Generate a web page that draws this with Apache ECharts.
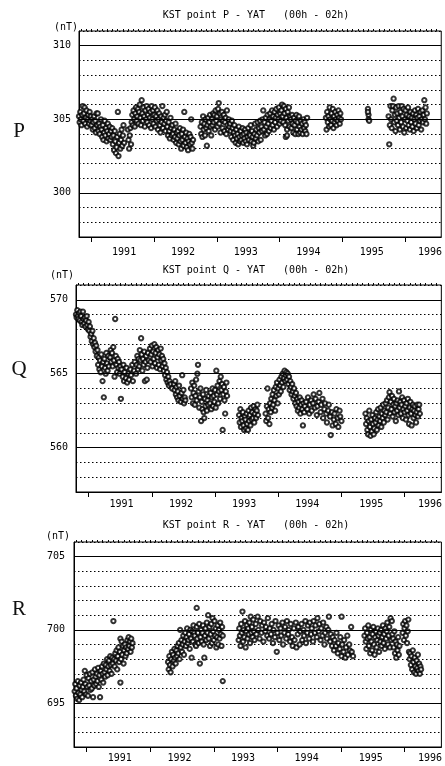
<!DOCTYPE html>
<html><head><meta charset="utf-8">
<script src="https://cdn.jsdelivr.net/npm/echarts@6/dist/echarts.min.js"></script>
<style>html,body{margin:0;padding:0;background:#fff}#c{width:445px;height:766px}</style>
</head><body><div id="c"></div>
<script>
// ---------- DATA (decimal year, nT) ----------
const pointsP = [
[1990.80,305.2],[1990.81,304.8],[1990.82,305.5],[1990.83,305.0],[1990.84,304.6],[1990.85,305.3],[1990.86,305.9],[1990.87,304.9],[1990.88,305.4],[1990.89,305.8],[1990.90,304.7],[1990.91,305.1],[1990.92,305.6],[1990.93,304.5],[1990.94,305.0],[1990.95,305.3],[1990.96,304.7],[1990.97,305.5],[1990.98,304.9],[1990.99,305.2],
[1991.00,304.6],[1991.01,305.0],[1991.02,304.3],[1991.03,304.8],[1991.04,305.2],[1991.05,304.4],[1991.06,304.9],[1991.07,304.1],[1991.08,305.4],[1991.09,304.6],[1991.10,305.4],[1991.11,304.2],[1991.12,304.7],[1991.13,304.0],[1991.14,304.5],[1991.15,305.0],
[1991.16,304.3],[1991.17,303.8],[1991.18,304.6],[1991.19,303.6],[1991.20,304.1],[1991.21,304.9],[1991.22,303.9],[1991.23,304.4],[1991.24,303.5],[1991.25,304.2],[1991.26,304.7],[1991.27,303.7],[1991.28,304.0],[1991.29,304.5],[1991.30,303.6],[1991.31,304.2],
[1991.32,303.8],[1991.33,304.4],[1991.34,303.3],[1991.35,303.9],[1991.36,302.9],[1991.37,304.2],[1991.38,303.5],[1991.39,302.7],[1991.40,303.1],[1991.41,303.8],[1991.42,305.5],[1991.43,302.5],[1991.44,303.4],[1991.45,304.0],[1991.46,303.0],[1991.47,303.6],[1991.48,304.3],[1991.49,303.2],[1991.50,303.9],[1991.51,304.6],[1991.52,303.4],
[1991.58,304.3],[1991.59,303.6],[1991.60,303.0],[1991.61,303.9],[1991.62,304.4],[1991.63,303.3],
[1991.64,304.8],[1991.65,305.3],[1991.66,304.6],[1991.67,305.6],[1991.68,305.0],[1991.69,304.5],[1991.70,305.4],[1991.71,305.8],[1991.72,304.9],[1991.73,305.2],[1991.74,305.7],[1991.75,304.7],[1991.76,305.5],[1991.77,306.0],[1991.78,305.1],[1991.79,304.6],[1991.80,306.3],[1991.81,305.4],[1991.82,304.9],[1991.83,305.8],[1991.84,305.2],[1991.85,304.5],[1991.86,305.6],[1991.87,305.0],[1991.88,305.9],[1991.89,304.8],[1991.90,305.3],[1991.91,305.7],[1991.92,304.6],[1991.93,305.1],[1991.94,305.5],[1991.95,304.4],[1991.96,305.9],[1991.97,305.0],[1991.98,305.6],[1991.99,304.7],[1992.00,305.3],[1992.01,305.8],[1992.02,304.5],[1992.03,305.2],[1992.04,304.9],[1992.05,305.6],[1992.06,304.3],[1992.07,305.0],[1992.08,305.4],[1992.09,304.6],[1992.10,304.1],[1992.11,305.2],[1992.12,304.8],[1992.13,305.9],[1992.14,304.4],[1992.15,305.1],[1992.16,304.7],[1992.17,305.3],[1992.18,304.2],[1992.19,304.9],[1992.20,305.5],
[1992.21,304.5],[1992.22,303.9],[1992.23,304.8],[1992.24,304.2],[1992.25,303.7],[1992.26,305.1],[1992.27,304.4],[1992.28,303.9],[1992.29,304.6],[1992.30,304.0],[1992.31,303.6],[1992.32,304.3],[1992.33,303.8],[1992.34,304.7],[1992.35,303.4],[1992.36,304.1],
[1992.37,303.7],[1992.38,304.2],[1992.39,303.3],[1992.40,303.9],[1992.41,304.4],[1992.42,303.5],[1992.43,303.0],[1992.44,304.0],[1992.45,303.6],[1992.46,304.3],[1992.47,303.2],[1992.48,305.5],[1992.49,303.8],[1992.50,303.4],[1992.51,304.1],[1992.52,303.1],[1992.53,303.7],[1992.54,302.9],[1992.55,303.5],[1992.56,304.0],[1992.57,303.3],[1992.58,303.8],[1992.59,305.0],[1992.60,303.4],[1992.61,303.0],[1992.62,303.6],
[1992.74,304.5],[1992.75,304.0],[1992.76,304.8],[1992.77,303.8],[1992.78,305.2],[1992.79,304.3],[1992.80,304.7],[1992.81,303.9],[1992.82,305.0],[1992.83,304.4],[1992.84,303.2],[1992.85,304.6],[1992.86,305.1],[1992.87,304.2],[1992.88,304.8],[1992.89,305.3],[1992.90,304.5],[1992.91,303.9],[1992.92,305.0],[1992.93,304.6],[1992.94,305.4],
[1992.95,304.8],[1992.96,305.3],[1992.97,304.3],[1992.98,305.6],[1992.99,304.9],[1993.00,305.2],[1993.01,304.5],[1993.02,305.7],[1993.03,306.1],[1993.04,304.7],[1993.05,305.4],[1993.06,304.1],[1993.07,305.0],[1993.08,305.5],[1993.09,304.4],[1993.10,304.9],[1993.11,305.3],[1993.12,304.2],[1993.13,304.8],[1993.14,305.1],[1993.15,304.0],[1993.16,305.6],[1993.17,304.6],[1993.18,304.3],[1993.19,305.0],[1993.20,304.5],
[1993.21,304.7],[1993.22,304.2],[1993.23,303.8],[1993.24,304.9],[1993.25,304.4],[1993.26,303.6],[1993.27,304.1],[1993.28,304.6],[1993.29,303.9],[1993.30,303.4],[1993.31,304.3],[1993.32,303.7],[1993.33,304.0],[1993.34,303.3],[1993.35,304.5],[1993.36,303.8],[1993.37,303.5],[1993.38,304.2],[1993.39,303.6],[1993.40,303.9],[1993.41,304.4],[1993.42,303.4],[1993.43,304.0],[1993.44,303.7],[1993.45,304.3],[1993.46,303.5],[1993.47,304.1],[1993.48,303.3],[1993.49,303.8],[1993.50,304.4],[1993.51,303.6],[1993.52,304.0],[1993.53,303.9],[1993.54,304.6],[1993.55,303.5],[1993.56,304.2],[1993.57,303.8],[1993.58,303.2],[1993.59,303.4],[1993.60,304.0],[1993.61,304.7],[1993.62,303.7],[1993.63,304.3],[1993.64,303.9],[1993.65,304.8],[1993.66,303.5],[1993.67,304.4],[1993.68,304.1],[1993.69,304.9],[1993.70,303.6],[1993.71,304.5],[1993.72,304.2],[1993.73,305.0],
[1993.74,305.6],[1993.75,304.3],[1993.76,304.8],[1993.77,303.9],[1993.78,305.1],[1993.79,304.5],[1993.80,304.0],[1993.81,305.3],[1993.82,304.7],[1993.83,304.2],[1993.84,305.0],[1993.85,305.4],[1993.86,304.4],[1993.87,304.9],[1993.88,305.6],[1993.89,304.6],[1993.90,305.2],[1993.91,304.3],[1993.92,305.5],[1993.93,304.8],[1993.94,305.1],[1993.95,305.7],[1993.96,304.5],[1993.97,305.3],[1993.98,305.0],[1993.99,305.8],[1994.00,304.7],[1994.01,305.4],[1994.02,304.9],[1994.03,305.6],[1994.04,306.0],[1994.05,305.2],[1994.06,304.8],[1994.07,305.9],[1994.08,305.4],[1994.09,304.6],[1994.10,305.7],[1994.10,303.8],[1994.11,305.1],[1994.12,304.3],[1994.12,303.9],[1994.13,305.5],[1994.14,304.9],[1994.15,305.8],[1994.16,304.5],[1994.17,305.2],
[1994.18,305.0],[1994.19,304.4],[1994.20,305.3],[1994.21,304.7],[1994.22,304.1],[1994.23,305.1],[1994.24,304.6],[1994.25,304.0],[1994.26,304.9],[1994.27,305.3],[1994.28,304.3],[1994.29,304.8],[1994.30,304.0],[1994.31,305.2],[1994.32,304.5],[1994.33,304.1],[1994.34,304.9],[1994.35,304.3],[1994.36,304.7],[1994.37,304.0],[1994.38,305.0],[1994.39,304.4],[1994.40,304.8],[1994.41,304.2],[1994.42,304.6],[1994.43,304.0],[1994.44,305.1],
[1994.74,305.1],[1994.75,304.3],[1994.76,305.5],[1994.77,304.8],[1994.78,305.2],[1994.79,304.5],[1994.80,305.8],[1994.81,305.0],[1994.82,304.6],[1994.83,305.4],[1994.84,304.9],[1994.85,305.7],[1994.86,304.4],[1994.87,305.2],[1994.88,304.8],[1994.89,305.5],[1994.90,305.0],[1994.91,304.6],[1994.92,305.3],[1994.93,304.9],[1994.94,305.6],[1994.95,305.1],[1994.96,304.7],[1994.97,305.4],[1994.98,305.0],
[1995.41,305.7],[1995.42,305.3],[1995.42,305.0],[1995.43,304.9],[1995.41,305.5],
[1995.74,305.2],[1995.75,303.3],[1995.76,304.6],[1995.77,305.9],[1995.78,305.0],[1995.79,304.4],[1995.80,305.6],[1995.81,305.9],[1995.82,306.4],[1995.83,304.8],[1995.84,305.3],[1995.85,304.2],[1995.86,305.8],[1995.87,304.9],[1995.88,305.4],[1995.89,304.6],[1995.90,305.9],[1995.91,305.1],[1995.92,304.3],[1995.93,305.5],[1995.94,304.8],[1995.95,305.9],[1995.96,305.2],[1995.97,304.5],[1995.98,305.7],[1995.99,304.1],[1996.00,305.0],[1996.01,305.6],[1996.02,304.4],[1996.03,305.3],[1996.04,304.9],[1996.05,305.8],[1996.06,304.6],[1996.07,305.2],[1996.08,304.3],[1996.09,305.5],[1996.10,304.8],[1996.11,305.1],[1996.12,304.5],[1996.13,305.4],[1996.14,304.2],[1996.15,305.0],[1996.16,305.6],[1996.17,304.7],[1996.18,305.3],[1996.19,304.4],[1996.20,305.1],[1996.21,305.7],[1996.22,304.6],[1996.23,305.2],[1996.24,304.9],[1996.25,305.5],[1996.26,304.3],[1996.27,305.0],[1996.28,305.6],[1996.29,304.8],[1996.30,305.3],[1996.31,306.3],[1996.32,305.0],[1996.33,305.8],[1996.34,304.7],[1996.35,305.4]
];
const pointsQ = [
[1990.76,569.8],[1990.77,569.5],[1990.78,569.2],[1990.79,569.6],[1990.80,569.0],[1990.81,568.8],[1990.82,569.3],[1990.83,568.9],[1990.84,568.7],[1990.85,569.1],[1990.86,568.6],
[1990.87,569.2],[1990.88,568.9],[1990.89,568.5],[1990.90,568.3],[1990.91,569.2],[1990.92,568.7],[1990.93,568.4],[1990.94,568.8],[1990.95,568.2],[1990.96,568.6],[1990.97,568.9],[1990.98,568.3],[1990.99,568.0],[1991.00,568.5],
[1991.01,567.9],[1991.02,568.2],[1991.03,567.5],[1991.04,567.7],[1991.05,567.2],[1991.06,567.9],[1991.07,567.0],[1991.08,567.4],[1991.09,566.8],[1991.10,567.1],[1991.11,566.5],[1991.12,566.9],[1991.13,566.2],[1991.14,566.6],
[1991.15,565.6],[1991.16,566.1],[1991.17,565.3],[1991.18,565.9],[1991.19,565.1],[1991.20,566.3],[1991.21,565.5],[1991.22,564.5],[1991.23,565.8],[1991.24,563.4],[1991.25,566.0],[1991.26,565.4],[1991.27,565.0],[1991.28,566.4],[1991.29,565.7],[1991.30,565.2],[1991.31,566.2],[1991.32,565.5],
[1991.34,566.1],[1991.35,566.6],[1991.36,565.8],[1991.37,566.4],[1991.38,565.5],[1991.39,566.8],[1991.40,565.9],[1991.41,564.8],[1991.42,568.7],[1991.43,566.2],[1991.44,565.6],[1991.45,565.1],[1991.46,566.0],[1991.47,565.4],[1991.48,565.8],[1991.49,565.0],[1991.50,565.5],[1991.51,563.3],
[1991.52,565.3],[1991.54,564.8],[1991.55,565.6],[1991.56,564.5],[1991.57,565.1],[1991.59,564.7],[1991.60,565.4],[1991.61,564.4],[1991.63,565.0],[1991.64,564.6],[1991.66,565.3],[1991.67,564.9],[1991.69,565.6],[1991.70,564.5],[1991.72,565.2],[1991.73,565.8],[1991.75,565.0],
[1991.76,565.6],[1991.77,566.2],[1991.78,565.3],[1991.79,566.0],[1991.80,565.5],[1991.81,566.6],[1991.82,565.9],[1991.83,567.4],[1991.84,566.3],[1991.85,565.2],[1991.86,566.0],[1991.87,565.6],[1991.88,566.5],[1991.89,564.5],[1991.90,565.8],[1991.91,566.2],[1991.92,564.6],[1991.93,565.4],[1991.94,566.4],[1991.95,565.9],
[1991.97,566.7],[1991.98,565.8],[1991.99,566.3],[1992.00,566.9],[1992.01,565.5],[1992.02,566.5],[1992.03,566.0],[1992.04,567.0],[1992.05,565.7],[1992.06,566.4],[1992.07,566.8],[1992.08,565.4],[1992.09,566.1],[1992.10,566.6],[1992.11,565.6],[1992.12,566.3],[1992.13,565.3],[1992.14,566.7],[1992.15,565.9],[1992.16,566.2],
[1992.17,565.5],[1992.18,566.0],[1992.19,565.2],[1992.20,565.7],[1992.21,564.9],[1992.22,565.4],[1992.23,564.6],[1992.24,565.1],[1992.25,564.4],[1992.26,564.8],[1992.27,564.2],[1992.28,564.5],[1992.30,564.3],[1992.32,564.0],
[1992.35,564.3],[1992.36,563.9],[1992.37,564.5],[1992.38,563.6],[1992.39,564.1],[1992.40,563.4],[1992.41,563.8],[1992.42,563.2],[1992.43,564.2],[1992.44,563.5],[1992.46,563.1],[1992.47,563.7],[1992.48,564.9],[1992.49,563.3],[1992.50,563.9],[1992.51,563.0],[1992.52,563.4],[1992.53,563.2],
[1992.62,564.0],[1992.63,563.4],[1992.64,564.4],[1992.65,563.0],[1992.66,563.7],[1992.67,564.2],[1992.68,562.9],[1992.69,563.5],[1992.70,564.6],[1992.71,563.2],[1992.72,565.0],[1992.73,565.6],[1992.74,563.8],[1992.75,562.7],[1992.76,563.4],[1992.77,564.0],[1992.78,561.8],[1992.79,563.1],[1992.80,562.6],[1992.81,563.6],[1992.82,562.4],[1992.83,562.0],[1992.84,563.3],[1992.85,562.8],[1992.86,563.9],[1992.87,562.5],[1992.88,563.2],[1992.89,562.9],[1992.90,563.5],
[1992.92,563.0],[1992.93,563.7],[1992.94,562.6],[1992.95,563.4],[1992.96,564.0],[1992.97,562.8],[1992.98,563.5],[1992.99,563.1],[1993.00,563.9],[1993.01,562.7],[1993.02,565.2],[1993.03,563.6],[1993.04,564.2],[1993.05,563.0],[1993.06,563.8],[1993.07,564.5],[1993.08,563.3],[1993.09,564.8],[1993.10,563.9],[1993.11,564.3],[1993.12,561.2],[1993.13,563.6],[1993.14,564.1],[1993.15,563.2],[1993.16,562.3],[1993.17,563.8],[1993.18,564.4],[1993.19,563.5],
[1993.38,562.2],[1993.39,561.7],[1993.40,562.6],[1993.41,561.4],[1993.42,562.0],[1993.43,561.8],[1993.44,562.4],[1993.45,561.5],[1993.46,561.2],[1993.47,562.1],[1993.48,561.9],[1993.49,561.3],[1993.50,562.3],[1993.51,561.6],[1993.52,561.2],[1993.53,562.5],[1993.54,561.8],[1993.55,562.2],[1993.56,561.5],[1993.57,562.7],[1993.58,561.9],[1993.59,562.4],[1993.60,562.0],[1993.61,562.8],[1993.62,561.7],[1993.63,562.3],[1993.64,562.6],[1993.65,562.0],[1993.66,562.5],[1993.67,562.9],[1993.68,562.2],
[1993.80,562.3],[1993.81,561.8],[1993.82,562.8],[1993.83,564.0],[1993.84,562.0],[1993.85,562.6],[1993.86,561.6],[1993.87,563.0],[1993.88,562.4],[1993.89,563.3],[1993.90,562.7],[1993.91,563.6],[1993.92,562.9],[1993.93,563.9],[1993.94,563.2],[1993.95,562.5],[1993.96,564.1],[1993.97,563.5],[1993.98,564.4],[1993.99,563.0],[1994.00,564.0],[1994.01,563.6],[1994.02,564.6],[1994.03,564.2],[1994.04,563.8],[1994.05,564.8],[1994.06,564.4],[1994.07,565.0],[1994.08,564.1],[1994.09,564.7],[1994.10,565.2],[1994.11,564.5],
[1994.12,564.9],[1994.13,565.1],[1994.14,564.6],[1994.15,565.0],[1994.16,564.3],[1994.17,564.8],[1994.18,563.9],[1994.19,564.5],[1994.20,564.1],[1994.21,563.6],[1994.22,564.3],[1994.23,563.8],[1994.24,563.3],[1994.25,564.0],[1994.26,563.5],[1994.27,563.0],[1994.28,563.7],[1994.29,562.8],[1994.30,563.3],[1994.31,562.5],[1994.32,563.1],[1994.33,562.7],[1994.34,563.4],[1994.35,562.3],[1994.36,562.9],[1994.37,563.2],[1994.38,562.6],[1994.39,561.5],[1994.40,563.0],[1994.41,562.4],[1994.42,562.8],
[1994.44,563.1],[1994.46,562.6],[1994.47,563.4],[1994.49,562.3],[1994.50,562.9],[1994.52,563.2],[1994.53,562.5],[1994.55,563.0],[1994.56,563.6],[1994.58,562.7],[1994.59,563.3],[1994.61,562.2],[1994.62,562.8],[1994.64,563.1],[1994.65,563.7],[1994.67,562.4],[1994.68,562.9],[1994.70,563.3],[1994.71,562.0],[1994.73,562.6],[1994.74,563.0],[1994.76,562.3],[1994.77,561.7],[1994.79,562.5],[1994.80,562.9],[1994.82,562.1],[1994.83,560.85],[1994.85,562.4],[1994.86,561.5],[1994.88,561.9],[1994.89,562.3],[1994.91,561.6],[1994.92,562.6],[1994.94,562.0],[1994.95,561.4],[1994.97,562.5],[1994.98,562.1],[1995.00,561.8],
[1995.38,562.3],[1995.39,561.6],[1995.40,562.0],[1995.41,561.2],[1995.42,560.9],[1995.43,561.8],[1995.44,562.5],[1995.45,561.4],[1995.46,560.8],[1995.47,561.9],[1995.48,561.1],[1995.49,562.2],[1995.50,561.6],[1995.51,560.9],[1995.52,561.3],[1995.53,562.0],[1995.54,561.7],[1995.55,562.4],[1995.56,561.2],[1995.57,561.9],[1995.58,562.6],[1995.59,561.5],[1995.60,562.1],[1995.61,561.8],[1995.62,562.7],[1995.63,561.4],[1995.64,562.3],[1995.65,562.0],[1995.66,562.9],[1995.67,561.7],[1995.68,562.5],[1995.69,562.2],[1995.70,563.0],[1995.71,562.4],[1995.72,563.2],[1995.73,561.9],[1995.74,562.7],[1995.75,563.4],[1995.76,563.75],[1995.77,562.3],[1995.78,563.1],[1995.79,562.6],[1995.80,563.5],[1995.81,562.1],[1995.82,562.9],[1995.83,563.3],[1995.84,562.4],[1995.85,562.8],[1995.86,561.8],[1995.87,563.0],[1995.88,562.5],[1995.89,563.2],[1995.90,562.2],[1995.91,563.8],[1995.92,562.7],[1995.93,563.1],[1995.94,562.3],[1995.95,562.9],[1995.96,563.4],[1995.97,562.0],[1995.98,562.6],[1995.99,563.2],[1996.00,562.4],[1996.01,562.8],[1996.02,561.9],[1996.03,563.0],[1996.04,562.5],[1996.05,563.3],[1996.06,562.2],[1996.07,561.6],[1996.08,562.7],[1996.09,563.1],[1996.10,562.3],[1996.11,561.5],[1996.12,562.6],[1996.13,562.9],[1996.14,562.0],[1996.15,562.5],[1996.16,562.8],[1996.17,562.2],[1996.18,561.7],[1996.19,562.4],[1996.20,562.9],[1996.21,562.1],[1996.22,562.6],[1996.23,562.9],[1996.24,562.3]
];
const pointsR = [
[1990.81,695.8],[1990.82,696.3],[1990.83,695.5],[1990.84,696.0],[1990.85,695.3],[1990.86,696.5],[1990.87,695.7],[1990.88,695.2],[1990.89,696.2],[1990.90,695.6],[1990.91,696.4],[1990.92,695.9],[1990.93,695.4],[1990.94,696.1],
[1990.95,696.6],[1990.96,695.8],[1990.97,697.2],[1990.98,696.3],[1990.99,695.6],[1991.00,696.9],[1991.01,696.1],[1991.02,695.5],[1991.03,696.7],[1991.04,696.2],[1991.05,697.0],[1991.06,695.9],[1991.07,696.5],[1991.08,696.0],[1991.09,697.1],[1991.10,695.4],[1991.11,696.6],[1991.12,696.2],[1991.13,697.3],[1991.14,696.8],[1991.15,696.3],[1991.16,697.0],[1991.17,696.5],[1991.18,697.4],[1991.19,696.1],[1991.20,696.9],[1991.21,695.4],
[1991.22,697.2],[1991.23,696.6],[1991.24,697.5],[1991.25,697.0],[1991.26,696.4],[1991.27,697.7],[1991.28,697.1],[1991.29,696.8],[1991.30,697.6],[1991.31,697.3],[1991.32,698.0],[1991.33,696.9],[1991.34,697.5],[1991.35,697.9],[1991.36,697.2],[1991.37,698.2],[1991.38,697.6],[1991.39,697.0],[1991.40,698.1],[1991.41,697.7],[1991.42,700.6],
[1991.43,698.0],[1991.44,697.5],[1991.45,698.4],[1991.46,697.9],[1991.47,698.6],[1991.48,697.3],[1991.49,698.2],[1991.50,698.8],[1991.51,697.8],[1991.52,698.5],[1991.53,696.4],[1991.53,699.4],[1991.54,698.0],[1991.55,699.2],[1991.56,698.3],[1991.57,698.9],[1991.58,697.7],[1991.59,698.6],[1991.60,699.0],[1991.61,698.2],[1991.62,698.8],[1991.63,698.4],
[1991.64,699.3],[1991.65,698.7],[1991.66,699.5],[1991.67,698.9],[1991.68,699.2],[1991.69,698.5],[1991.70,699.4],[1991.71,698.8],[1991.72,699.1],
[1992.28,697.8],[1992.29,697.3],[1992.30,698.2],[1992.31,697.6],[1992.32,697.1],[1992.33,698.0],[1992.34,698.5],[1992.35,697.5],[1992.36,698.3],[1992.37,697.9],[1992.38,698.7],[1992.39,698.1],[1992.40,697.7],[1992.41,698.6],[1992.42,698.2],[1992.43,698.9],[1992.44,698.4],[1992.45,699.1],[1992.46,698.0],[1992.47,700.0],
[1992.48,698.8],[1992.49,699.3],[1992.50,698.5],[1992.51,699.0],[1992.52,699.6],[1992.53,698.3],[1992.54,699.2],[1992.55,699.8],[1992.56,698.9],[1992.57,699.5],[1992.58,700.1],[1992.59,699.1],[1992.60,699.3],[1992.61,699.7],[1992.62,698.7],[1992.63,700.0],[1992.64,699.4],[1992.65,698.1],[1992.66,699.9],[1992.67,699.2],[1992.68,700.3],[1992.69,699.8],[1992.70,699.6],[1992.71,699.0],[1992.72,698.9],[1992.73,700.2],[1992.73,701.5],[1992.74,699.4],[1992.75,699.8],[1992.76,699.1],[1992.77,700.4],
[1992.78,697.7],[1992.79,699.5],[1992.80,700.0],[1992.81,699.2],[1992.82,699.8],[1992.83,700.3],[1992.84,699.0],[1992.85,698.1],[1992.86,699.6],[1992.87,700.1],[1992.88,699.3],[1992.89,700.5],[1992.90,699.8],[1992.91,701.0],[1992.92,699.4],[1992.93,700.2],[1992.94,698.9],[1992.95,699.7],[1992.96,700.4],[1992.97,699.1],[1992.98,700.8],[1992.99,699.9],[1993.00,699.3],[1993.01,700.6],[1993.02,699.6],[1993.03,700.1],[1993.04,698.8],[1993.05,699.5],[1993.06,700.3],[1993.07,699.0],[1993.08,700.0],[1993.09,699.4],[1993.10,700.5],[1993.11,699.7],[1993.12,698.9],[1993.13,700.2],[1993.14,696.5],[1993.14,699.6],
[1993.39,699.3],[1993.40,700.1],[1993.41,699.6],[1993.42,698.9],[1993.43,700.4],[1993.44,699.8],[1993.45,701.25],[1993.46,699.2],[1993.47,700.0],[1993.48,699.5],[1993.49,700.6],[1993.50,698.8],[1993.51,699.9],[1993.52,700.3],[1993.53,699.4],[1993.54,700.1],[1993.55,699.7],[1993.56,700.5],[1993.57,699.1],[1993.58,700.9],[1993.59,699.8],[1993.60,700.2],[1993.61,699.5],[1993.62,700.7],[1993.63,699.9],[1993.64,699.3],[1993.66,700.4],[1993.67,699.7],[1993.69,700.9],[1993.70,700.0],[1993.72,699.4],[1993.73,700.6],[1993.75,699.8],[1993.76,700.3],[1993.78,699.2],[1993.79,700.5],[1993.81,699.9],[1993.82,700.2],[1993.84,699.6],[1993.85,700.8],[1993.87,699.4],[1993.88,700.1],[1993.90,699.7],[1993.91,700.4],[1993.93,699.1],[1993.94,700.0],[1993.96,699.5],[1993.97,700.6],[1993.99,698.5],[1994.00,699.8],[1994.02,700.3],[1994.03,699.3],[1994.05,700.1],[1994.06,699.6],[1994.08,700.5],[1994.09,699.0],[1994.11,699.8],[1994.12,700.2],[1994.14,699.4],[1994.15,700.6],[1994.17,699.7],[1994.18,700.0],[1994.20,699.2],[1994.21,700.4],[1994.23,699.5],[1994.24,698.9],[1994.26,700.1],[1994.27,699.3],[1994.29,700.5],[1994.30,698.8],[1994.32,699.7],[1994.33,700.2],[1994.35,699.0],[1994.36,699.9],[1994.38,700.4],[1994.39,699.3],[1994.41,700.0],[1994.42,699.6],[1994.44,700.6],[1994.45,699.1],[1994.47,699.8],[1994.48,700.3],[1994.50,699.4],[1994.51,700.5],[1994.53,699.7],[1994.54,700.1],[1994.56,699.2],[1994.57,700.6],[1994.59,699.8],[1994.60,700.3],[1994.62,699.5],[1994.63,700.8],[1994.65,699.9],[1994.66,700.4],[1994.68,699.3],[1994.69,700.1],[1994.71,699.6],[1994.72,700.5],[1994.74,699.0],[1994.75,699.8],[1994.77,700.2],[1994.78,699.4],[1994.80,700.0],[1994.81,700.9],[1994.83,699.2],[1994.84,699.7],[1994.86,698.9],[1994.87,699.5],[1994.89,698.6],[1994.90,699.3],[1994.92,698.9],[1994.93,699.8],[1994.95,698.4],[1994.96,699.1],[1994.98,698.7],[1994.99,699.5],[1995.01,698.2],[1995.01,700.9],[1995.02,699.0],[1995.04,698.5],[1995.05,699.3],[1995.07,698.1],[1995.08,698.8],[1995.10,699.6],[1995.11,698.3],[1995.13,699.0],[1995.14,698.6],[1995.16,700.2],[1995.17,698.5],[1995.19,698.2],
[1995.37,699.6],[1995.38,700.1],[1995.39,699.2],[1995.40,698.7],[1995.41,699.8],[1995.42,699.4],[1995.43,700.3],[1995.44,698.9],[1995.45,699.5],[1995.46,698.4],[1995.47,700.0],[1995.48,699.2],[1995.49,698.6],[1995.50,699.7],[1995.51,700.2],[1995.52,699.0],[1995.53,698.3],[1995.54,699.5],[1995.55,699.9],[1995.56,698.8],[1995.57,699.3],[1995.58,700.1],[1995.59,699.6],[1995.60,698.5],[1995.61,699.8],[1995.62,699.2],[1995.63,700.0],[1995.64,698.9],[1995.65,699.5],[1995.66,700.3],[1995.67,699.1],[1995.68,699.7],[1995.69,698.7],[1995.70,700.1],[1995.71,699.4],[1995.72,699.9],[1995.73,700.5],[1995.74,699.0],[1995.75,699.6],[1995.76,700.2],[1995.77,698.8],[1995.78,700.8],[1995.79,699.3],[1995.80,700.6],[1995.81,699.7],
[1995.82,699.4],[1995.83,698.8],[1995.84,699.9],[1995.85,698.4],[1995.86,699.2],[1995.87,698.1],[1995.88,699.0],[1995.89,698.6],[1995.90,699.5],[1995.91,698.3],[1995.92,698.9],
[1995.97,699.8],[1995.98,700.4],[1995.99,699.3],[1996.00,700.1],[1996.01,700.6],[1996.02,699.6],[1996.03,700.3],[1996.04,699.1],[1996.05,699.9],[1996.06,700.7],
[1996.07,698.5],[1996.08,698.0],[1996.09,698.4],[1996.10,697.6],[1996.11,698.2],[1996.12,697.3],[1996.13,698.6],[1996.14,697.8],[1996.15,697.1],[1996.16,698.1],[1996.17,697.5],[1996.18,697.0],[1996.19,697.9],[1996.20,697.4],[1996.21,698.3],[1996.22,697.2],[1996.23,697.7],[1996.24,697.0],[1996.25,697.5],[1996.26,697.3]
];
const panelNames = ['P','Q','R'];
const panelTitles = ['KST point P - YAT   (00h - 02h)','KST point Q - YAT   (00h - 02h)','KST point R - YAT   (00h - 02h)'];
const yMins = [297, 557, 692];
const yMaxs = [311, 571, 706];
const yLabelsP = [300, 305, 310];
const yLabelsQ = [560, 565, 570];
const yLabelsR = [695, 700, 705];
const yearTicks = [1991, 1992, 1993, 1994, 1995, 1996];
const yearLabels = ['1991', '1992', '1993', '1994', '1995', '1996'];
const yearLabelPos = [1991.52, 1992.46, 1993.46, 1994.46, 1995.47, 1996.40];
const xMin = 1990.8, xMax = 1996.58;

// ---------- LAYOUT ----------
const layout = [
  {left: 79, top: 31, width: 365, height: 206, labelMargin: 8, xLabelMargin: 10, titleY: 15, letterY: 131, nTx: 78, nTy: 27},
  {left: 76, top: 285, width: 367, height: 207, labelMargin: 8, xLabelMargin: 7, titleY: 270, letterY: 369, nTx: 74, nTy: 275},
  {left: 74, top: 542, width: 368, height: 205, labelMargin: 9, xLabelMargin: 6, titleY: 525, letterY: 609, nTx: 70, nTy: 536}
];
const allData = [pointsP, pointsQ, pointsR];
const allYLabels = [yLabelsP, yLabelsQ, yLabelsR];

const monthTicks = [];
for (let y = 1990; y <= 1996; y++) for (let m = 0; m < 12; m++) {
  const v = y + m / 12;
  if (v > xMin && v < xMax) monthTicks.push(+v.toFixed(4));
}

const mono = 'DejaVu Sans Mono';
const grid = [], xAxis = [], yAxis = [], series = [], graphic = [];
layout.forEach((L, i) => {
  grid.push({left: L.left, top: L.top, width: L.width, height: L.height, show: true, borderColor: '#000', borderWidth: 1, backgroundColor: 'transparent'});
  xAxis.push({
    gridIndex: i, type: 'value', min: xMin, max: xMax,
    axisLine: {show: true, onZero: false, lineStyle: {color: '#000', width: 1}},
    axisTick: {show: true, customValues: yearTicks, length: 5, lineStyle: {color: '#000', width: 1}},
    axisLabel: {show: true, customValues: yearLabelPos, margin: L.xLabelMargin, color: '#000', fontFamily: mono, fontSize: 10,
      formatter: v => { const k = yearLabelPos.findIndex(p => Math.abs(p - v) < 1e-6); return k >= 0 ? yearLabels[k] : ''; }},
    splitLine: {show: false}
  });
  xAxis.push({
    gridIndex: i, type: 'value', min: xMin, max: xMax,
    axisLine: {show: false, onZero: false},
    axisTick: {show: true, customValues: monthTicks, length: 2, lineStyle: {color: '#000', width: 1}},
    axisLabel: {show: false}, splitLine: {show: false}
  });
  const labs = allYLabels[i];
  yAxis.push({
    gridIndex: i, type: 'value', min: yMins[i], max: yMaxs[i], interval: 1,
    axisLine: {show: true, lineStyle: {color: '#000'}}, axisTick: {show: false},
    axisLabel: {margin: L.labelMargin, color: '#000', fontFamily: mono, fontSize: 10,
      formatter: v => labs.indexOf(v) >= 0 ? String(v) : ''},
    splitLine: {show: true, lineStyle: {color: '#000', width: 1, type: [1.5, 2.5]}}
  });
  series.push({
    type: 'scatter', xAxisIndex: 2 * i, yAxisIndex: i, data: allData[i],
    symbol: 'emptyCircle', symbolSize: 4.3,
    itemStyle: {color: '#000', borderColor: '#1a1a1a', borderWidth: 0.75},
    silent: true, animation: false,
    markLine: {silent: true, animation: false, symbol: ['none', 'none'], label: {show: false},
      lineStyle: {type: 'solid', color: '#000', width: 1},
      emphasis: {disabled: true},
      data: labs.map(v => ({yAxis: v}))}
  });
  graphic.push({type: 'text', x: 256, y: L.titleY, style: {text: panelTitles[i], fontFamily: mono, fontSize: 10, fill: '#000', textAlign: 'center', textVerticalAlign: 'middle'}});
  graphic.push({type: 'text', x: L.nTx, y: L.nTy, style: {text: '(nT)', fontFamily: mono, fontSize: 10, fill: '#000', textAlign: 'right', textVerticalAlign: 'middle'}});
  graphic.push({type: 'text', x: 19, y: L.letterY, style: {text: panelNames[i], fontFamily: 'Liberation Serif', fontSize: 21, fill: '#111', textAlign: 'center', textVerticalAlign: 'middle'}});
});

const chart = echarts.init(document.getElementById('c'), null, {renderer: 'canvas'});
chart.setOption({backgroundColor: '#fff', animation: false, grid, xAxis, yAxis, series, graphic});
</script>
</body></html>
